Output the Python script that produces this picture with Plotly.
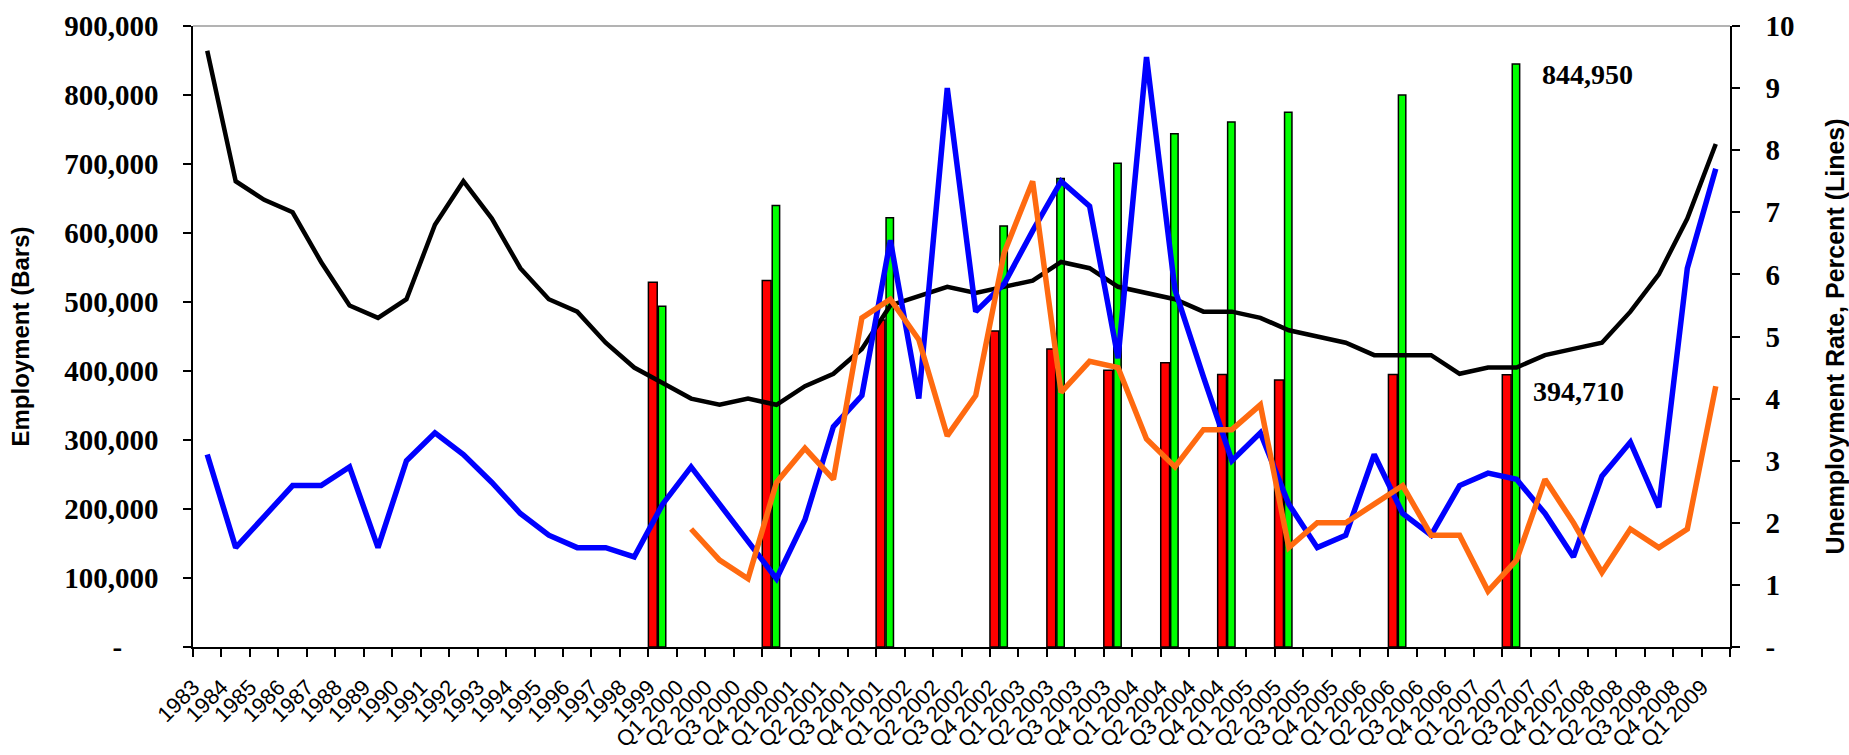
import plotly.graph_objects as go

# ---------------- data ----------------
categories = [
    "1983", "1984", "1985", "1986", "1987", "1988", "1989", "1990", "1991",
    "1992", "1993", "1994", "1995", "1996", "1997", "1998", "1999",
    "Q1 2000", "Q2 2000", "Q3 2000", "Q4 2000",
    "Q1 2001", "Q2 2001", "Q3 2001", "Q4 2001",
    "Q1 2002", "Q2 2002", "Q3 2002", "Q4 2002",
    "Q1 2003", "Q2 2003", "Q3 2003", "Q4 2003",
    "Q1 2004", "Q2 2004", "Q3 2004", "Q4 2004",
    "Q1 2005", "Q2 2005", "Q3 2005", "Q4 2005",
    "Q1 2006", "Q2 2006", "Q3 2006", "Q4 2006",
    "Q1 2007", "Q2 2007", "Q3 2007", "Q4 2007",
    "Q1 2008", "Q2 2008", "Q3 2008", "Q4 2008",
    "Q1 2009",
]

# unemployment rates (right axis, percent)
black_rate = [
    9.6, 7.5, 7.2, 7.0, 6.2, 5.5, 5.3, 5.6, 6.8, 7.5, 6.9, 6.1, 5.6, 5.4, 4.9, 4.5, 4.25,
    4.0, 3.9, 4.0, 3.9,
    4.2, 4.4, 4.8, 5.5,
    5.65, 5.8, 5.7, 5.8,
    5.9, 6.2, 6.1, 5.8,
    5.7, 5.6, 5.4, 5.4,
    5.3, 5.1, 5.0, 4.9,
    4.7, 4.7, 4.7, 4.4,
    4.5, 4.5, 4.7, 4.8,
    4.9, 5.4, 6.0, 6.9,
    8.1,
]
blue_rate = [
    3.1, 1.6, 2.1, 2.6, 2.6, 2.9, 1.6, 3.0, 3.45, 3.1, 2.65, 2.15, 1.8, 1.6, 1.6, 1.45, 2.3,
    2.9, 2.3, 1.7, 1.1,
    2.05, 3.55, 4.05, 6.55,
    4.0, 9.0, 5.4, 5.85,
    6.7, 7.5, 7.1, 4.65,
    9.5, 5.75, 4.35, 3.0,
    3.45, 2.3, 1.6, 1.8,
    3.1, 2.15, 1.8, 2.6,
    2.8, 2.7, 2.15, 1.45,
    2.75, 3.3, 2.25, 6.1,
    7.7,
]
orange_rate = [
    None, None, None, None, None, None, None, None, None,
    None, None, None, None, None, None, None, None,
    1.9, 1.4, 1.1, 2.65,
    3.2, 2.7, 5.3, 5.6,
    4.95, 3.4, 4.05, 6.35,
    7.5, 4.1, 4.6, 4.5,
    3.35, 2.9, 3.5, 3.5,
    3.9, 1.6, 2.0, 2.0,
    2.3, 2.6, 1.8, 1.8,
    0.9, 1.4, 2.7, 2.0,
    1.2, 1.9, 1.6, 1.9,
    4.2,
]

# employment (left axis, bars)
bar_categories = ["1999", "Q4 2000", "Q4 2001", "Q4 2002", "Q2 2003", "Q4 2003",
                  "Q2 2004", "Q4 2004", "Q2 2005", "Q2 2006", "Q2 2007"]
red_employment = [528600, 531000, 474000, 458000, 432000, 401000,
                  412000, 395000, 387000, 395000, 394710]
green_employment = [494000, 640000, 622000, 610000, 679000, 701000,
                    744000, 761000, 775000, 800000, 844950]

left_tick_values = [0, 100000, 200000, 300000, 400000, 500000, 600000, 700000, 800000, 900000]
left_tick_text = ["-\u00a0\u00a0\u00a0\u00a0\u00a0", "100,000", "200,000", "300,000", "400,000",
                  "500,000", "600,000", "700,000", "800,000", "900,000"]
right_tick_values = [0, 1, 2, 3, 4, 5, 6, 7, 8, 9, 10]
right_tick_text = ["-", "1", "2", "3", "4", "5", "6", "7", "8", "9", "10"]

# ---------------- figure ----------------
W, H = 1849, 755
num_font = dict(family="Liberation Serif", size=29, color="black", weight="bold")
ann_font = dict(family="Liberation Serif", size=28, color="black", weight="bold")

fig = go.Figure()
fig.add_trace(go.Bar(
    x=bar_categories, y=red_employment, offset=-0.5, width=0.31,
    marker=dict(color="#FF0000", line=dict(color="black", width=1.5)),
    name="Red", hoverinfo="x+y",
))
fig.add_trace(go.Bar(
    x=bar_categories, y=green_employment, offset=-0.15, width=0.26,
    marker=dict(color="#00FF00", line=dict(color="black", width=1.5)),
    name="Green", hoverinfo="x+y",
))
fig.add_trace(go.Scatter(
    x=categories, y=black_rate, yaxis="y2", mode="lines",
    line=dict(color="black", width=4.5), name="Black",
))
fig.add_trace(go.Scatter(
    x=categories, y=blue_rate, yaxis="y2", mode="lines",
    line=dict(color="#0000FF", width=5.5), name="Blue",
))
fig.add_trace(go.Scatter(
    x=categories, y=orange_rate, yaxis="y2", mode="lines",
    line=dict(color="#FF6A10", width=5.5), name="Orange",
))

# value labels anchored to their bars
fig.add_annotation(x=bar_categories[0], y=red_employment[0], text=f"{red_employment[0]:,}",
                   showarrow=False, xanchor="center", yanchor="middle", xshift=-13, yshift=28,
                   font=ann_font)
fig.add_annotation(x=bar_categories[-1], y=green_employment[-1], text=f"{green_employment[-1]:,}",
                   showarrow=False, xanchor="left", yanchor="middle", xshift=23, yshift=-11,
                   font=ann_font)
fig.add_annotation(x=bar_categories[-1], y=red_employment[-1], text=f"{red_employment[-1]:,}",
                   showarrow=False, xanchor="left", yanchor="middle", xshift=14, yshift=-17,
                   font=ann_font)

# thin grey top border of the plot area
fig.add_shape(type="line", xref="paper", yref="paper", x0=0, x1=1, y0=1, y1=1,
              line=dict(color="#9a9a9a", width=1.5))

tick_common = dict(ticklen=8, tickwidth=1.5, tickcolor="black")

fig.update_layout(
    template="none",
    width=W, height=H, autosize=False,
    margin=dict(l=193, r=119, t=26, b=108, pad=0),
    paper_bgcolor="white", plot_bgcolor="white",
    showlegend=False, barmode="overlay",
    xaxis=dict(
        type="category", categoryorder="array", categoryarray=categories,
        range=[-0.5, len(categories) - 0.5], tickson="boundaries",
        tickmode="array", tickvals=categories, ticktext=categories,
        ticks="outside", **tick_common,
        showline=True, linecolor="black", linewidth=1.5,
        showgrid=False, zeroline=False, automargin=False,
        tickangle=-45, ticklabelstandoff=17, ticklabelshift=-14,
        tickfont=dict(family="Liberation Sans", size=22, color="black"),
    ),
    yaxis=dict(
        range=[0, 900000], tickmode="array", tickvals=left_tick_values, ticktext=left_tick_text,
        ticks="outside", **tick_common,
        showline=True, linecolor="black", linewidth=1.5,
        showgrid=False, zeroline=False, automargin=False,
        tickfont=num_font, ticklabelstandoff=19,
        title=dict(text="Employment (Bars)",
                   font=dict(family="Liberation Sans", size=24, color="black", weight="bold"),
                   standoff=28),
    ),
    yaxis2=dict(
        overlaying="y", side="right", anchor="x",
        range=[0, 10], tickmode="array", tickvals=right_tick_values, ticktext=right_tick_text,
        ticks="outside", **tick_common,
        showline=True, linecolor="black", linewidth=1.5,
        showgrid=False, zeroline=False, automargin=False,
        tickfont=num_font, ticklabelstandoff=20,
        title=dict(text="Unemployment Rate, Percent (Lines)",
                   font=dict(family="Liberation Sans", size=25, color="black", weight="bold"),
                   standoff=36),
    ),
    # inner halves of the crossing tick marks
    yaxis3=dict(
        overlaying="y", side="left", anchor="x", range=[0, 900000],
        tickmode="array", tickvals=left_tick_values, ticks="inside", **tick_common,
        showticklabels=False, showline=False, showgrid=False, zeroline=False,
    ),
    yaxis4=dict(
        overlaying="y", side="right", anchor="x", range=[0, 10],
        tickmode="array", tickvals=right_tick_values, ticks="inside", **tick_common,
        showticklabels=False, showline=False, showgrid=False, zeroline=False,
    ),
    xaxis2=dict(
        overlaying="x", side="bottom", anchor="y",
        type="category", categoryorder="array", categoryarray=categories,
        range=[-0.5, len(categories) - 0.5], tickson="boundaries",
        ticks="inside", **tick_common,
        showticklabels=False, showline=False, showgrid=False, zeroline=False,
    ),
)

fig.write_html(
    "out.html",
    config={"displayModeBar": False},
    post_script="document.body.style.margin='0';document.body.style.overflow='hidden';",
)
